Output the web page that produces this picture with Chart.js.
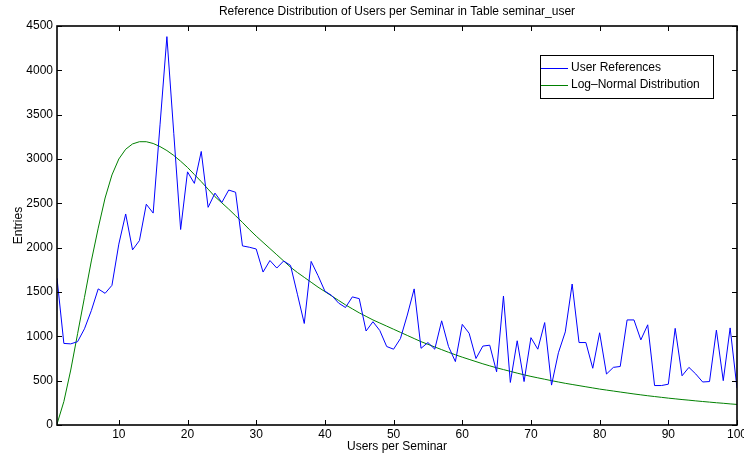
<!DOCTYPE html>
<html>
<head>
<meta charset="utf-8">
<script src="https://cdn.jsdelivr.net/npm/chart.js@4.4.1/dist/chart.umd.min.js"></script>
<style>
  html, body { margin: 0; padding: 0; background: #fff; }
</style>
</head>
<body>
<canvas id="c" width="744" height="455"></canvas>
<script>
// valores (x = usuários por seminário)
const users = [
  1, 2, 3, 4, 5, 6, 7, 8, 9, 10, 11, 12, 13, 14, 15, 16, 17, 18, 19, 20,
  21, 22, 23, 24, 25, 26, 27, 28, 29, 30, 31, 32, 33, 34, 35, 36, 37, 38, 39, 40,
  41, 42, 43, 44, 45, 46, 47, 48, 49, 50, 51, 52, 53, 54, 55, 56, 57, 58, 59, 60,
  61, 62, 63, 64, 65, 66, 67, 68, 69, 70, 71, 72, 73, 74, 75, 76, 77, 78, 79, 80,
  81, 82, 83, 84, 85, 86, 87, 88, 89, 90, 91, 92, 93, 94, 95, 96, 97, 98, 99, 100
];
const userRefs = [
  1655, 920, 915, 940, 1085, 1290, 1535, 1485, 1575, 2040,
  2380, 1975, 2080, 2490, 2390, 3385, 4380, 3290, 2205, 2855,
  2725, 3085, 2455, 2615, 2510, 2650, 2625, 2020, 2005, 1985,
  1725, 1855, 1770, 1850, 1800, 1475, 1145, 1845, 1685, 1510,
  1460, 1375, 1325, 1445, 1425, 1060, 1165, 1065, 885, 855,
  975, 1240, 1535, 865, 930, 855, 1175, 885, 715, 1135,
  1035, 750, 890, 900, 600, 1455, 480, 950, 490, 985,
  855, 1155, 450, 815, 1050, 1590, 930, 930, 640, 1040,
  575, 650, 660, 1185, 1185, 960, 1130, 445, 445, 460,
  1090, 555, 650, 575, 485, 490, 1070, 500, 1095, 415
];
const logNormal = [
  10, 265, 620, 1030, 1440, 1850, 2220, 2560, 2820, 3000,
  3110, 3170, 3195, 3195, 3175, 3140, 3095, 3040, 2975, 2905,
  2825, 2745, 2660, 2575, 2505, 2435, 2360, 2285, 2205, 2130,
  2060, 1990, 1920, 1850, 1780, 1720, 1665, 1610, 1555, 1505,
  1455, 1405, 1355, 1310, 1265, 1225, 1185, 1150, 1115, 1080,
  1045, 1010, 975, 940, 910, 880, 850, 820, 792, 765,
  740, 715, 690, 667, 645, 625, 605, 585, 566, 548,
  532, 516, 500, 485, 470, 457, 444, 431, 418, 405,
  394, 383, 372, 361, 350, 340, 330, 321, 312, 303,
  295, 287, 280, 272, 265, 258, 251, 245, 238, 232
];
const xTicks = [10, 20, 30, 40, 50, 60, 70, 80, 90, 100];
const seriesNames = ['User References', 'Log\u2013Normal Distribution'];

const FONT = '"Liberation Sans", Arial, Helvetica, sans-serif';
const pts = arr => users.map((u, i) => ({ x: u, y: arr[i] }));

// caixa estilo Matlab: moldura + ticks para dentro nos quatro lados
const matlabBox = {
  id: 'matlabBox',
  afterDraw(chart) {
    const { ctx, chartArea: a, scales: { x, y } } = chart;
    const tl = 5;
    ctx.save();
    ctx.strokeStyle = '#000';
    ctx.lineWidth = 1;
    ctx.beginPath();
    for (const t of x.ticks) {
      const px = Math.round(x.getPixelForValue(t.value)) + 0.5;
      ctx.moveTo(px, a.bottom); ctx.lineTo(px, a.bottom - tl);
      ctx.moveTo(px, a.top); ctx.lineTo(px, a.top + tl);
    }
    for (const t of y.ticks) {
      const py = Math.round(y.getPixelForValue(t.value)) + 0.5;
      ctx.moveTo(a.left, py); ctx.lineTo(a.left + tl, py);
      ctx.moveTo(a.right, py); ctx.lineTo(a.right - tl, py);
    }
    ctx.stroke();
    ctx.lineWidth = 1.6;
    ctx.strokeRect(a.left, a.top, a.right - a.left, a.bottom - a.top);
    ctx.restore();
  }
};

// legenda dentro da área, canto superior direito
const boxLegend = {
  id: 'boxLegend',
  afterDraw(chart) {
    const { ctx } = chart;
    const bx = 540, by = 55, bw = 173, bh = 43;
    ctx.save();
    ctx.fillStyle = '#fff';
    ctx.fillRect(bx, by, bw, bh);
    ctx.strokeStyle = '#000';
    ctx.lineWidth = 1;
    ctx.strokeRect(bx + 0.5, by + 0.5, bw, bh);
    ctx.font = '12px ' + FONT;
    ctx.textBaseline = 'middle';
    chart.data.datasets.forEach((ds, i) => {
      const ly = by + 13 + i * 16.5;
      ctx.strokeStyle = ds.borderColor;
      ctx.beginPath();
      ctx.moveTo(bx + 1, Math.round(ly) + 0.5);
      ctx.lineTo(bx + 28, Math.round(ly) + 0.5);
      ctx.stroke();
      ctx.fillStyle = '#000';
      ctx.fillText(ds.label, bx + 31, ly);
    });
    ctx.restore();
  }
};

new Chart(document.getElementById('c'), {
  type: 'line',
  data: {
    datasets: [
      { label: seriesNames[0], data: pts(userRefs), borderColor: '#0000ff', backgroundColor: '#0000ff', borderWidth: 1, pointRadius: 0, tension: 0 },
      { label: seriesNames[1], data: pts(logNormal), borderColor: '#008000', backgroundColor: '#008000', borderWidth: 1, pointRadius: 0, tension: 0 }
    ]
  },
  options: {
    responsive: false,
    animation: false,
    devicePixelRatio: 1,
    layout: { padding: { top: 0, right: 7, bottom: 0, left: 0 } },
    plugins: {
      legend: { display: false },
      tooltip: { enabled: false },
      title: {
        display: true,
        fullSize: false,
        text: 'Reference Distribution of Users per Seminar in Table seminar_user',
        color: '#000',
        font: { family: FONT, size: 12, weight: 'normal' },
        padding: { top: 4, bottom: 7.6 }
      }
    },
    scales: {
      x: {
        type: 'linear', min: 1, max: 100,
        grid: { display: false, drawTicks: false }, border: { display: false },
        afterBuildTicks: s => { s.ticks = xTicks.map(v => ({ value: v })); },
        afterFit: s => { s.height = 30; s.paddingLeft = 0; s.paddingRight = 0; },
        ticks: { color: '#000', padding: 2, maxRotation: 0, autoSkip: false, font: { family: FONT, size: 12 } },
        title: { display: true, text: 'Users per Seminar', color: '#000', padding: { top: 0, bottom: 1 }, font: { family: FONT, size: 12 } }
      },
      y: {
        min: 0, max: 4500,
        grid: { display: false, drawTicks: false }, border: { display: false },
        afterFit: s => { s.width = 57; s.paddingTop = 0; s.paddingBottom = 0; },
        ticks: { stepSize: 500, color: '#000', padding: 4, font: { family: FONT, size: 12 }, callback: v => String(v) },
        title: { display: true, text: 'Entries', color: '#000', padding: { top: 11, bottom: 0 }, font: { family: FONT, size: 12 } }
      }
    }
  },
  plugins: [matlabBox, boxLegend]
});
</script>
</body>
</html>
